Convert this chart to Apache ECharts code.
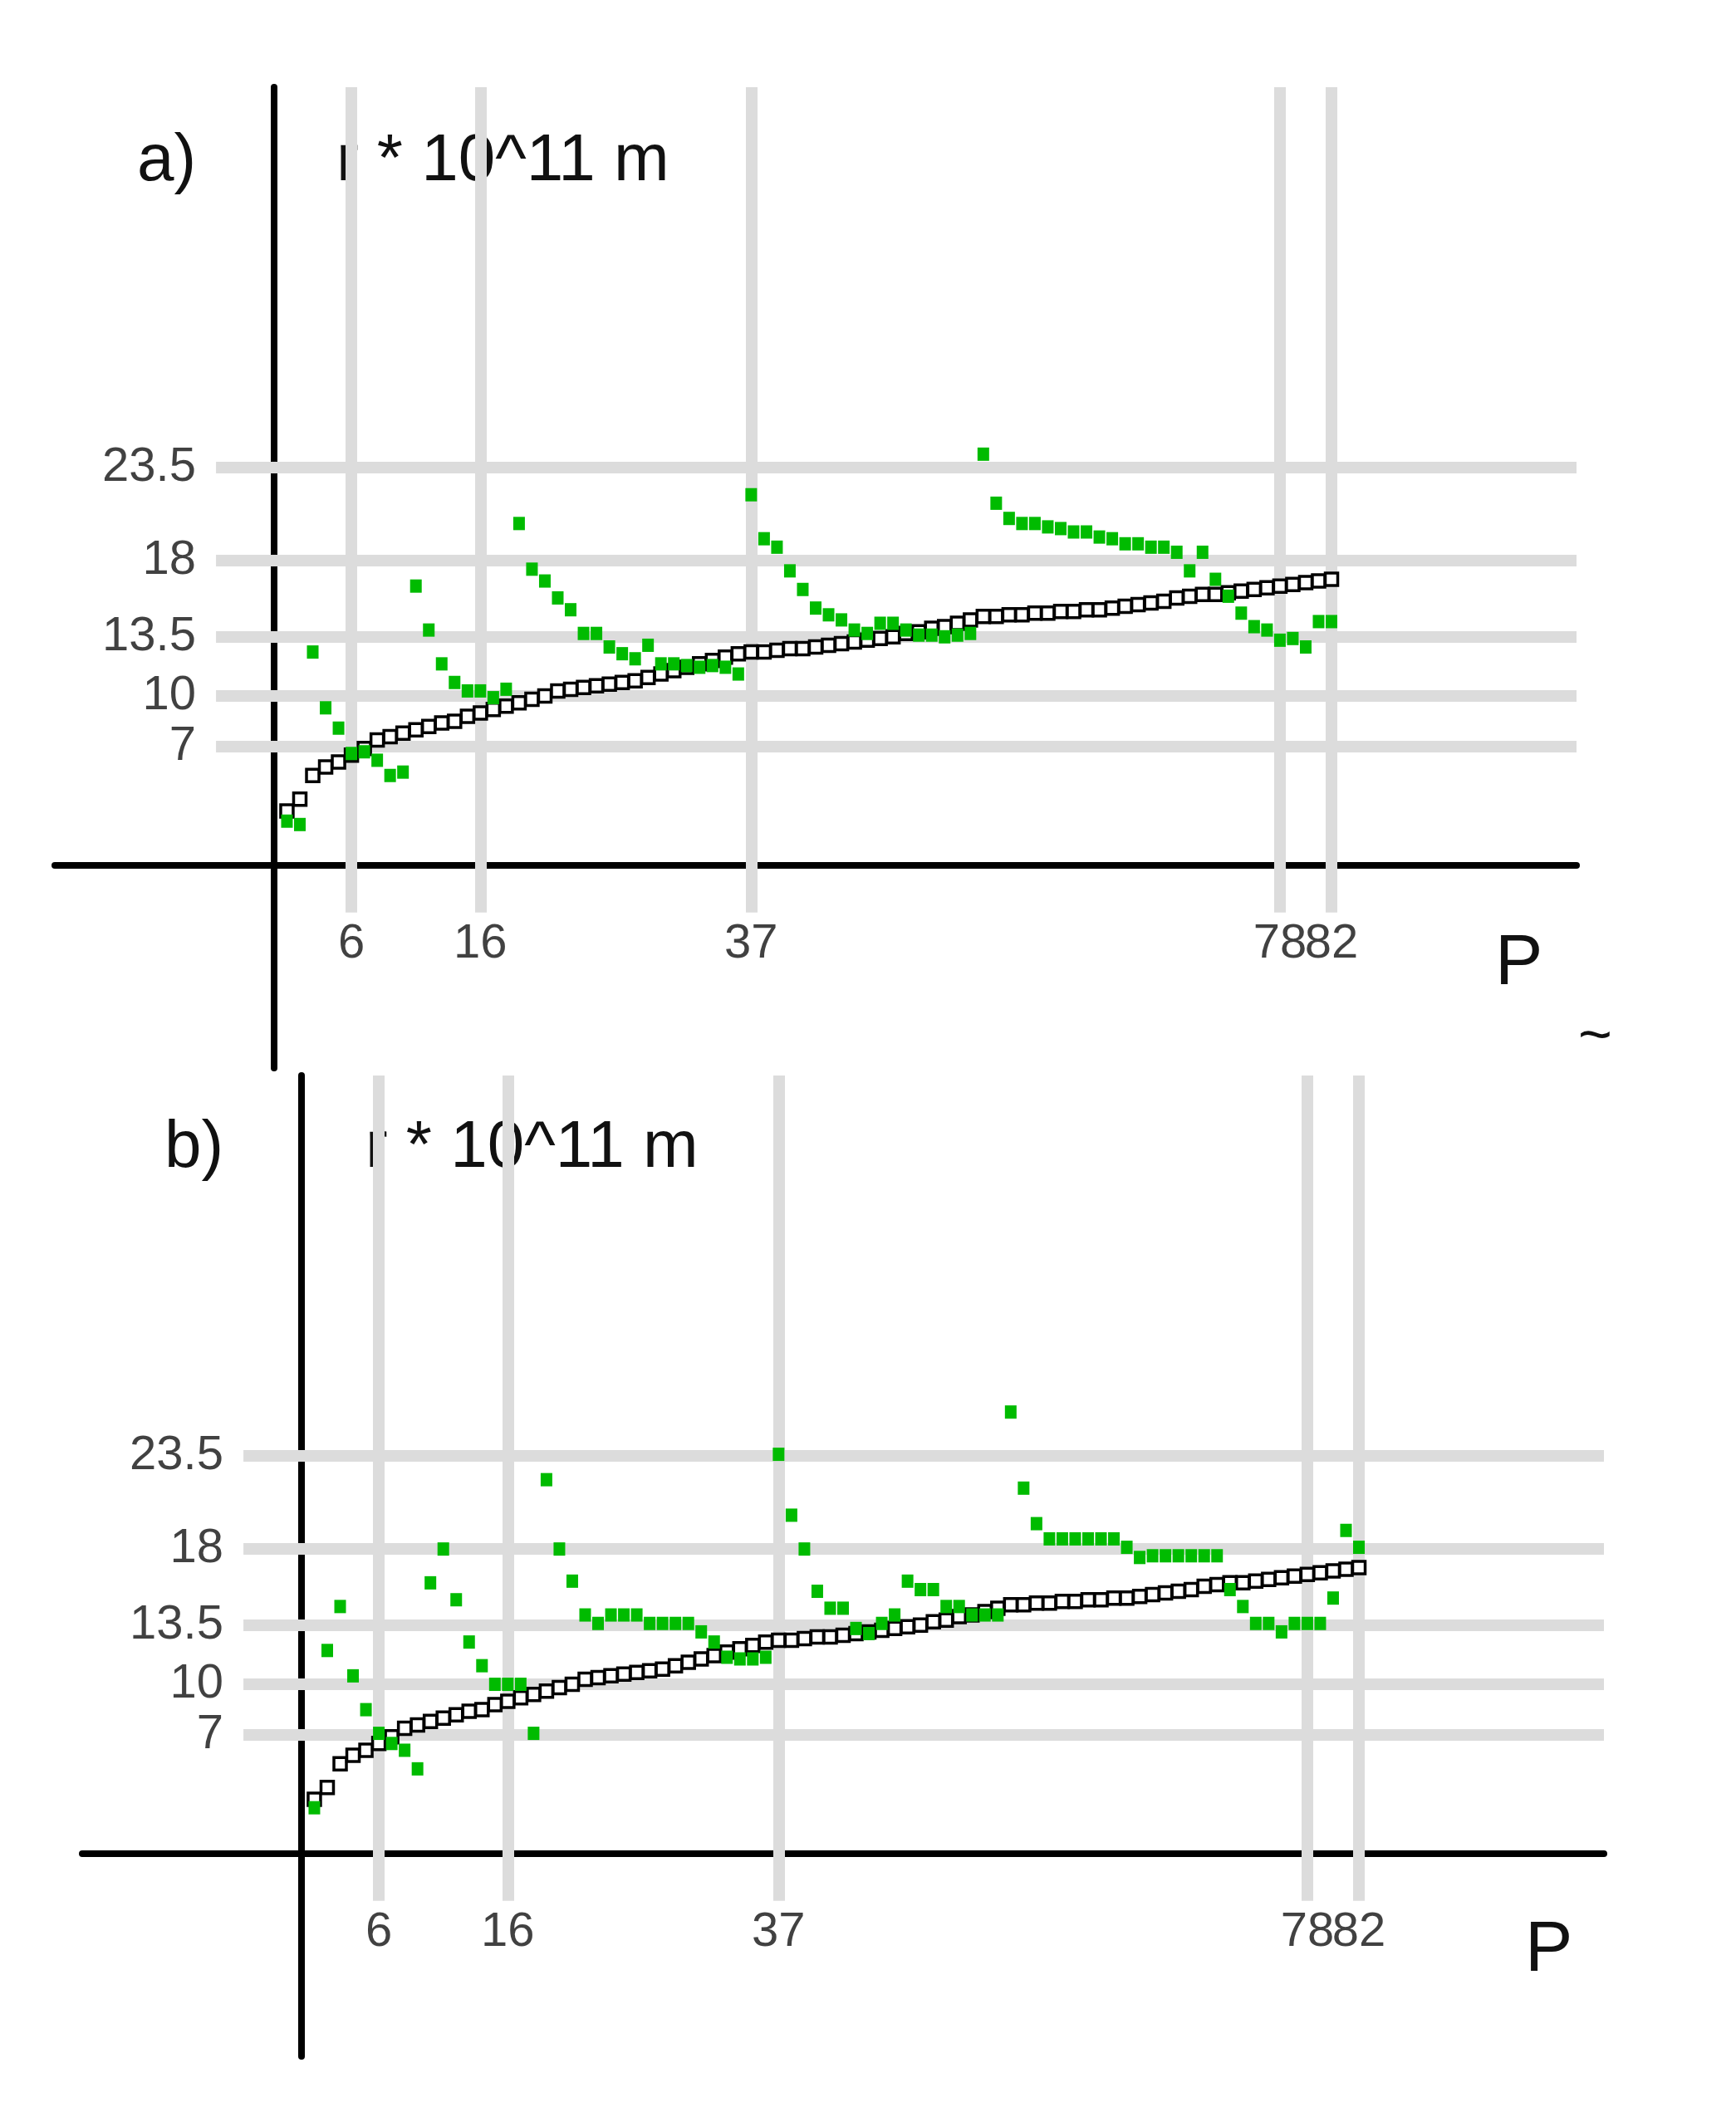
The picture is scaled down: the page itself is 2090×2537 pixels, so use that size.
<!DOCTYPE html>
<html>
<head>
<meta charset="utf-8">
<script src="https://cdn.jsdelivr.net/npm/echarts@6/dist/echarts.min.js"></script>
<style>
  html, body { margin: 0; padding: 0; background: #fff; }
  #chart { width: 2090px; height: 2537px; }
</style>
</head>
<body>
<div id="chart"></div>
<script>
// P = 1..82
const periods = [];
for (let p = 1; p <= 82; p++) periods.push(p);

// black hollow squares (same curve in both panels)
const radiusModel = [
  3.2, 3.9, 5.3, 5.8, 6.1, 6.5, 6.9, 7.4, 7.6, 7.8,
  8.0, 8.2, 8.4, 8.5, 8.8, 9.0, 9.2, 9.4, 9.6, 9.8,
  10.0, 10.3, 10.4, 10.5, 10.6, 10.7, 10.8, 10.9, 11.1, 11.3,
  11.5, 11.7, 11.9, 12.1, 12.3, 12.5, 12.6, 12.6, 12.7, 12.8,
  12.8, 12.9, 13.0, 13.1, 13.2, 13.3, 13.4, 13.5, 13.7, 13.8,
  14.0, 14.1, 14.3, 14.5, 14.7, 14.7, 14.8, 14.8, 14.9, 14.9,
  15.0, 15.0, 15.1, 15.1, 15.2, 15.3, 15.4, 15.5, 15.6, 15.8,
  15.9, 16.0, 16.0, 16.1, 16.2, 16.3, 16.4, 16.5, 16.6, 16.7,
  16.8, 16.9
];

// green squares, panel a
const radiusA = [
  2.6, 2.4, 12.6, 9.3, 8.1, 6.6, 6.7, 6.2, 5.3, 5.5,
  16.5, 13.9, 11.9, 10.8, 10.3, 10.3, 9.9, 10.4, 20.2, 17.5,
  16.8, 15.8, 15.1, 13.7, 13.7, 12.9, 12.5, 12.2, 13.0, 11.9,
  11.9, 11.8, 11.7, 11.8, 11.7, 11.3, 21.9, 19.3, 18.8, 17.4,
  16.3, 15.2, 14.8, 14.5, 13.9, 13.7, 14.3, 14.3, 13.9, 13.6,
  13.6, 13.5, 13.6, 13.7, 24.3, 21.4, 20.5, 20.2, 20.2, 20.0,
  19.9, 19.7, 19.7, 19.4, 19.3, 19.0, 19.0, 18.8, 18.8, 18.5,
  17.4, 18.5, 16.9, 15.9, 14.9, 14.1, 13.9, 13.3, 13.4, 12.9,
  14.4, 14.4
];

// green squares, panel b
const radiusB = [
  2.7, 12.0, 14.6, 10.5, 8.5, 7.1, 6.5, 6.1, 5.0, 16.0,
  18.0, 15.0, 12.5, 11.1, 10.0, 10.0, 10.0, 7.1, 22.1, 18.0,
  16.1, 14.1, 13.6, 14.1, 14.1, 14.1, 13.6, 13.6, 13.6, 13.6,
  13.1, 12.5, 11.6, 11.5, 11.5, 11.6, 23.6, 20.0, 18.0, 15.5,
  14.5, 14.5, 13.3, 13.0, 13.6, 14.1, 16.1, 15.6, 15.6, 14.6,
  14.6, 14.1, 14.1, 14.1, 26.1, 21.6, 19.5, 18.6, 18.6, 18.6,
  18.6, 18.6, 18.6, 18.1, 17.5, 17.6, 17.6, 17.6, 17.6, 17.6,
  17.6, 15.6, 14.6, 13.6, 13.6, 13.1, 13.6, 13.6, 13.6, 15.1,
  19.1, 18.1
];

const xTicks = [6, 16, 37, 78, 82];
const yTicks = [7, 10, 13.5, 18, 23.5];

const FONT = 'Liberation Sans';
const pairs = vals => vals.map((v, i) => [periods[i], v]);

function gridLines() {
  const d = [];
  yTicks.forEach(v => d.push([{ coord: [-4.5, v] }, { coord: [101, v] }]));
  xTicks.forEach(v => d.push([{ coord: [v, -2.8] }, { coord: [v, 46] }]));
  return d;
}

function axes(i) {
  const common = {
    type: 'value', gridIndex: i,
    splitLine: { show: false }, axisTick: { show: false }, axisLabel: { show: false },
    axisLine: { onZero: true, lineStyle: { color: '#000', width: 8 } }
  };
  return [
    Object.assign({ min: -17, max: 101 }, common),
    Object.assign({ min: -12, max: 46 }, common)
  ];
}

const [xa, ya] = axes(0);
const [xb, yb] = axes(1);

const labelStyle = { fontSize: 58, color: '#111', fontFamily: FONT };

function panelSeries(i, green) {
  return [
    {
      type: 'scatter', xAxisIndex: i, yAxisIndex: i, data: [], silent: true, z: 0,
      markLine: {
        silent: true, symbol: 'none', label: { show: false },
        lineStyle: { color: '#dcdcdc', width: 14, type: 'solid' },
        data: gridLines()
      }
    },
    {
      // x tick labels at the zero line
      type: 'scatter', xAxisIndex: i, yAxisIndex: i, silent: true,
      data: xTicks.map(v => [v, 0]), symbolSize: 0,
      label: Object.assign({ show: true, position: 'bottom', distance: 66,
        formatter: p => String(p.value[0]) }, labelStyle)
    },
    {
      // y tick labels at the zero line
      type: 'scatter', xAxisIndex: i, yAxisIndex: i, silent: true,
      data: yTicks.map(v => [0, v]), symbolSize: 0,
      label: Object.assign({ show: true, position: 'left', distance: 94,
        formatter: p => String(p.value[1]) }, labelStyle)
    },
    {
      type: 'scatter', xAxisIndex: i, yAxisIndex: i, data: pairs(radiusModel),
      symbol: 'rect', symbolSize: 15, zlevel: 1, z: 3,
      itemStyle: { color: '#fff', borderColor: '#000', borderWidth: 3.5, opacity: 1 }
    },
    {
      type: 'scatter', xAxisIndex: i, yAxisIndex: i, data: pairs(green),
      symbol: 'rect', symbolSize: [14, 16], zlevel: 1, z: 4,
      itemStyle: { color: '#00bb00', opacity: 1 }
    }
  ];
}

const txt = (left, top, text, size) => ({
  type: 'text', left, top,
  style: { text, fontSize: size, fontFamily: FONT, fill: '#111' }
});

const chart = echarts.init(document.getElementById('chart'));
chart.setOption({
  animation: false,
  backgroundColor: '#fff',
  grid: [
    { left: 66, width: 1832, top: 105, height: 1181, outerBoundsMode: 'none', containLabel: false },
    { left: 99, width: 1832, top: 1295, height: 1181, outerBoundsMode: 'none', containLabel: false }
  ],
  xAxis: [xa, xb],
  yAxis: [ya, yb],
  series: [...panelSeries(0, radiusA), ...panelSeries(1, radiusB)],
  graphic: [
    txt(165, 155, 'a)', 80),
    txt(405, 155, 'r * 10^11 m', 80),
    txt(1800, 1118, 'P', 86),
    txt(1900, 1215, '~', 70),
    txt(198, 1343, 'b)', 80),
    txt(440, 1343, 'r * 10^11 m', 80),
    txt(1836, 2306, 'P', 86)
  ]
});
</script>
</body>
</html>
